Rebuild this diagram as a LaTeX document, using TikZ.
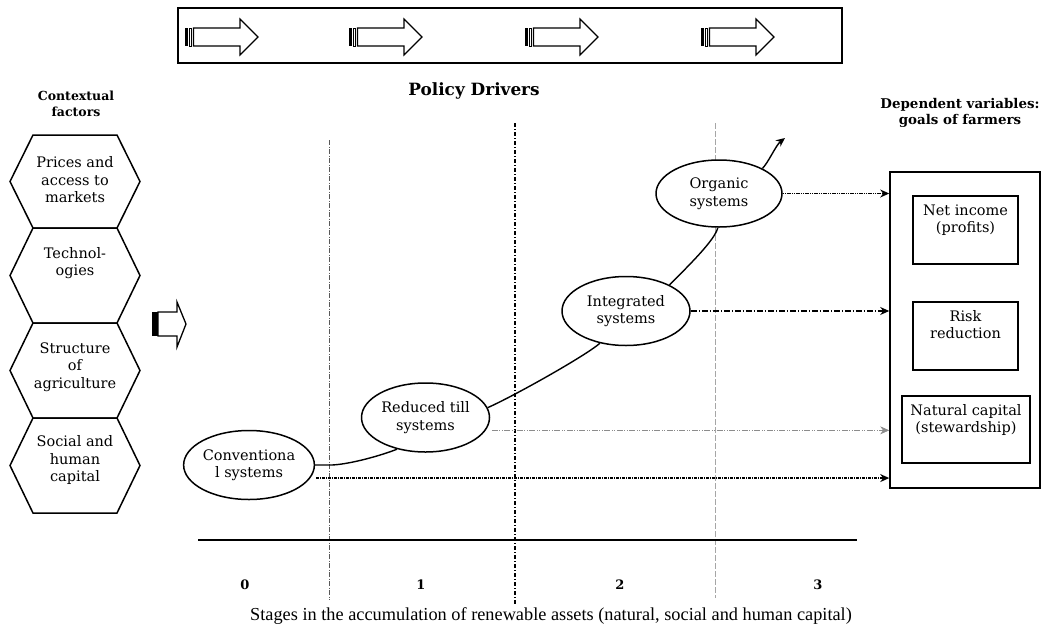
\documentclass[tikz,border=0pt]{standalone}
\usepackage{fontspec}
\setmainfont{DejaVu Serif}
\newfontfamily\capfont{Liberation Serif}
\usetikzlibrary{shapes.geometric,arrows.meta,calc}
\begin{document}
\begin{tikzpicture}[x=1pt,y=-1pt,
  every node/.style={font=\fontsize{14.5}{17.5}\selectfont},
  ell/.style={draw, line width=1.5pt, ellipse, minimum width=128pt, minimum height=69pt, inner sep=0pt, align=center},
  ibox/.style={draw, line width=1.6pt, rectangle, inner sep=0pt},
  boxtext/.style={align=center, anchor=north, inner sep=0pt},
  boldlbl/.style={font=\fontsize{12.5}{16}\selectfont\bfseries, align=center},
  numlbl/.style={font=\fontsize{13}{16}\selectfont\bfseries},
  hexline/.style={line width=1.5pt, line join=miter},
  conn/.style={line width=1.4pt},
  tip/.style={-{Stealth[length=9pt,width=8pt]}},
  cA/.style={line width=0.9pt, black, dash pattern=on 1pt off 1pt on 1pt off 1pt on 4pt off 1pt},
  cB/.style={line width=1.4pt, black, dash pattern=on 6pt off 2pt on 1pt off 2pt},
  cC/.style={line width=0.6pt, black!45, dash pattern=on 6pt off 1.5pt on 1pt off 1.5pt on 1pt off 1.5pt},
  cD/.style={line width=1.2pt, black, dash pattern=on 3pt off 1pt on 1pt off 1pt},
  vA/.style={line width=0.5pt, black!65, dash pattern=on 5pt off 1.5pt on 1pt off 1.5pt},
  vB/.style={line width=1.6pt, black, dash pattern=on 4pt off 2pt on 1pt off 2pt},
  vC/.style={line width=0.5pt, black!35, dash pattern=on 6pt off 2pt},
  striparrow/.pic={
    \fill (0,-9) rectangle (2.5,9);
    \draw[line width=0.7pt] (4.5,-9) rectangle (6.5,9);
    \draw[line width=1.1pt, line join=miter] (8.5,-9) -- (55,-9) -- (55,-18) -- (73,0) -- (55,18) -- (55,9) -- (8.5,9) -- cycle;
  },
]
\useasboundingbox (0,0) rectangle (1044,627);

% top box with policy arrows
\draw[line width=1.6pt] (178,8) rectangle (842,63);
\foreach \x in {185,349,525,701} \pic at (\x,37) {striparrow};

% headings
\node[boldlbl] (ctx) at (76,104) {Contextual\\factors};
\node[font=\fontsize{16.9}{19}\selectfont\bfseries] (pol) at (474,91) {Policy Drivers};
\node[boldlbl, font=\fontsize{13.4}{16.5}\selectfont\bfseries] (dvl) at (960,113) {Dependent variables:\\goals of farmers};

% hexagons
\foreach \t/\b in {135/228, 228/323, 323/418, 418/513}
  \draw[hexline] (33,\t) -- (117,\t) -- (140,{(\t+\b)/2}) -- (117,\b) -- (33,\b) -- (10,{(\t+\b)/2}) -- cycle;
\node[align=center] (h1) at (75,180) {Prices and\\access to\\markets};
\node[align=center] (h2) at (75,263) {Technol-\\ogies};
\node[align=center] (h3) at (75,367) {Structure\\of\\agriculture};
\node[align=center] (h4) at (75,460) {Social and\\human\\capital};

% left arrow
\fill (152,312) rectangle (158,336);
\draw[line width=1.3pt, line join=miter] (158,312) -- (177,312) -- (177,302) -- (186,324) -- (177,347) -- (177,336) -- (158,336) -- cycle;

% stage separators and axis
\draw[vA] (329,140) -- (329,600);
\draw[vB] (515,123) -- (515,605);
\draw[vC] (715,123) -- (715,598);
\draw[line width=1.6pt] (198,540) -- (857,540);
\node[numlbl] (n0) at (245,585) {0};
\node[numlbl] (n1) at (421,585) {1};
\node[numlbl] (n2) at (620,585) {2};
\node[numlbl] (n3) at (818,585) {3};
\node[font=\capfont\fontsize{18.3}{20}\selectfont] (cap) at (551,616) {Stages in the accumulation of renewable assets (natural, social and human capital)};

% systems
\node[ell, fill=white] (conv) at (249,465) {Conventiona\\l systems};
\node[ell, fill=white] (red) at (425.5,417.5) {Reduced till\\systems};
\node[ell, fill=white] (int) at (626,311) {Integrated\\systems};
\node[ell, fill=white, minimum width=126pt, minimum height=67pt] (org) at (719,193.5) {Organic\\systems};

% dependent variables
\node[draw, line width=1.6pt, minimum width=150pt, minimum height=316pt, inner sep=0pt] (dep) at (965,330) {};
\node[ibox, minimum width=105pt, minimum height=68pt] (net) at (965.5,230) {};
\node[ibox, minimum width=105pt, minimum height=68pt] (risk) at (965.5,336) {};
\node[ibox, minimum width=128pt, minimum height=67pt] (nat) at (966,429.5) {};
\node[boxtext] (nett) at ([yshift=-9pt]net.north) {Net income\\(profits)};
\node[boxtext] (riskt) at ([yshift=-9pt]risk.north) {Risk\\reduction};
\node[boxtext] (natt) at ([yshift=-9pt]nat.north) {Natural capital\\(stewardship)};

% progression curves
\draw[conn] (conv.east) -- ([xshift=17pt]conv.east) .. controls +(20,-1) and +(-12,5) .. (red.228);
\draw[conn] (red.9.5) .. controls +(25,-11) and +(-15,13) .. (int.231);
\draw[conn] (int.31) .. controls +(22,-22) and +(-3,12) .. (org.268);
\coordinate (oup) at (785,138);
\draw[conn, tip] (org.30) .. controls +(6,-6) and +(-9,7) .. (oup);

% links to goals
\draw[cA, tip] (org.east) -- (org.east -| dep.west);
\draw[cB, tip] (int.east) -- (int.east -| dep.west);
\draw[cC, tip, shorten <=6pt] (red.-12) -- (red.-12 -| dep.west);
\draw[cD, tip, shorten <=6pt] (conv.-12) -- (conv.-12 -| dep.west);
\end{tikzpicture}
\end{document}
